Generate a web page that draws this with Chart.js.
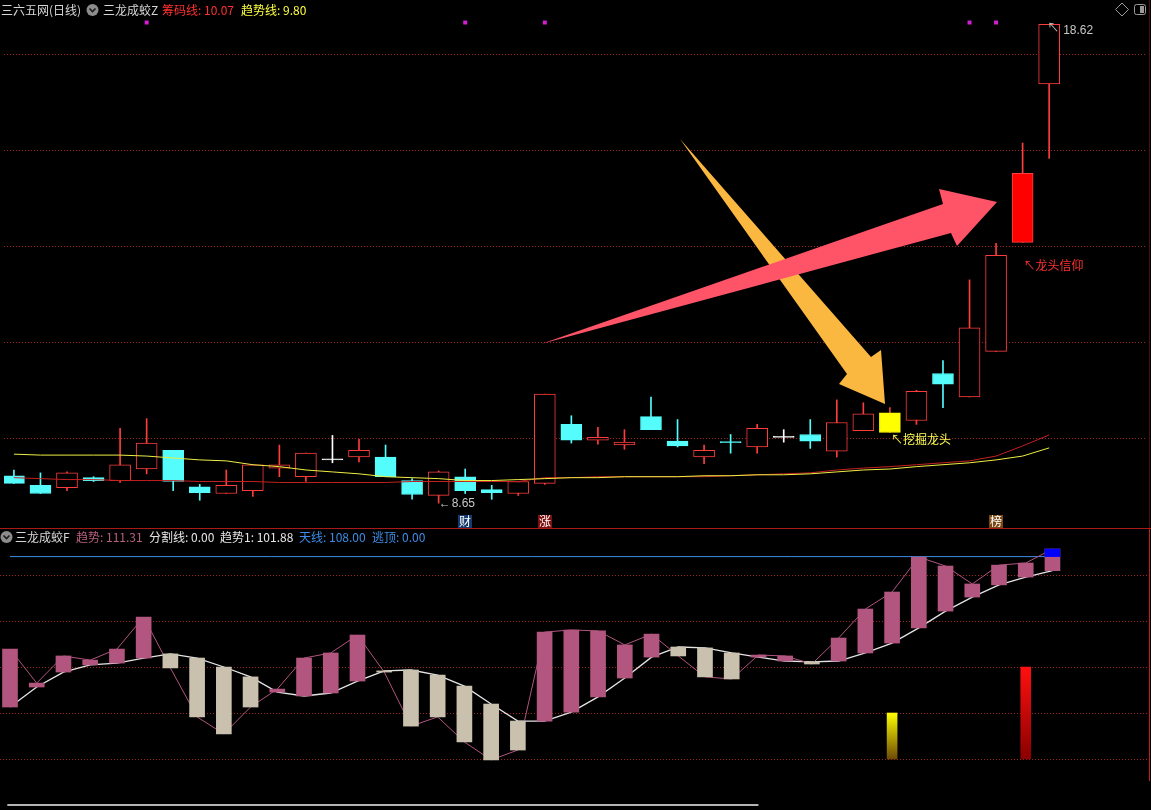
<!DOCTYPE html>
<html>
<head>
<meta charset="utf-8">
<script src="https://cdn.jsdelivr.net/npm/chart.js@4.4.0/dist/chart.umd.min.js"></script>
<style>
  html, body { margin: 0; padding: 0; background: #000; overflow: hidden; }
  body { width: 1151px; height: 810px; position: relative; font-family: "Noto Sans CJK SC", "Noto Sans", sans-serif; }
  canvas { position: absolute; left: 0; }
  #kline { top: 0; }
  #ind { top: 529px; }
  .sep { position: absolute; left: 0; top: 528px; width: 1151px; height: 1px; background: #a81a1a; }
  .rline { position: absolute; left: 1149px; width: 1px; }
  .t { position: absolute; font-size: 12px; line-height: 14px; white-space: nowrap; }
  svg { position: absolute; left: 0; top: 0; }
</style>
</head>
<body>
<canvas id="kline" width="1151" height="528"></canvas>
<canvas id="ind" width="1151" height="281"></canvas>
<div class="sep"></div>
<div class="rline" style="top:0;height:528px;background:#4a0d0d"></div>
<div class="rline" style="top:529px;height:252px;background:#c81c1c"></div>

<!-- title rows -->
<div class="t" style="left:1px;top:3px;color:#d6d6d6">三六五网(日线)</div>
<div class="t" style="left:103px;top:3px;color:#d6d6d6">三龙成蛟Z</div>
<div class="t" style="left:162px;top:3px;color:#ff3030">筹码线: 10.07</div>
<div class="t" style="left:241px;top:3px;color:#ffff40">趋势线: 9.80</div>

<div class="t" style="left:15px;top:530px;color:#d6d6d6">三龙成蛟F</div>
<div class="t" style="left:76px;top:530px;color:#b8607e">趋势: 111.31</div>
<div class="t" style="left:149px;top:530px;color:#e6e6e6">分割线: 0.00</div>
<div class="t" style="left:220px;top:530px;color:#e6e6e6">趋势1: 101.88</div>
<div class="t" style="left:299px;top:530px;color:#3c8ce6">天线: 108.00</div>
<div class="t" style="left:372px;top:530px;color:#3c8ce6">逃顶: 0.00</div>

<!-- icons and hand-drawn arrows -->
<svg width="1151" height="810">
  <circle cx="92.5" cy="10" r="6" fill="#8c8c8c"/>
  <path d="M89.5 8.5 L92.5 11.5 L95.5 8.5" stroke="#1a1a1a" stroke-width="1.6" fill="none"/>
  <circle cx="6.5" cy="537" r="6" fill="#8c8c8c"/>
  <path d="M3.5 535.5 L6.5 538.5 L9.5 535.5" stroke="#1a1a1a" stroke-width="1.6" fill="none"/>
  <polygon points="1122,3 1128.5,9.5 1122,16 1115.5,9.5" fill="none" stroke="#9a9a9a" stroke-width="1"/>
  <rect x="1134.5" y="4.5" width="11" height="10" rx="2" fill="none" stroke="#9a9a9a" stroke-width="1"/>
  <rect x="1140" y="6" width="4" height="7" fill="#9a9a9a"/>
  <polygon points="680,139 871,357 881,350 885,404 839,384 847,374" fill="#fbb840"/>
  <polygon points="541,344 943,204 939,189 997,202 957,246 951,233" fill="#ff5468"/>
</svg>

<script>
// ---- candles (price, daily) ----
const OPEN  = [9.22, 9.02, 8.97, 9.18, 9.12, 9.36, 9.75, 8.99, 8.85, 8.91,
               9.38, 9.20, 9.55, 9.61, 9.61, 9.12, 8.81, 9.20, 8.93, 8.85,
               9.06, 10.29, 9.96, 9.86, 10.45, 9.94, 9.61, 9.93, 9.82, 10.02,
               10.08, 9.73, 10.16, 10.12, 10.37, 11.35, 10.86, 11.81, 14.08, 17.38];
const HIGH  = [9.34, 9.28, 9.30, 9.20, 10.21, 10.41, 9.75, 9.04, 9.34, 9.45,
               9.86, 9.69, 10.06, 9.98, 9.86, 9.16, 9.32, 9.36, 9.02, 9.10,
               10.92, 10.47, 10.23, 10.18, 10.86, 10.39, 9.86, 10.08, 10.29, 10.18,
               10.39, 10.80, 10.74, 10.64, 11.00, 11.62, 13.30, 14.06, 16.15, 18.62];
const LOW   = [9.06, 8.85, 8.91, 9.10, 9.08, 9.26, 8.91, 8.71, 8.85, 8.79,
               9.20, 9.10, 9.49, 9.51, 9.20, 8.73, 8.65, 8.85, 8.73, 8.81,
               9.04, 9.90, 9.88, 9.77, 10.18, 9.82, 9.47, 9.69, 9.69, 9.92,
               9.79, 9.61, 10.16, 10.12, 10.29, 10.64, 10.86, 11.81, 14.08, 15.83];
const CLOSE = [9.06, 8.85, 9.28, 9.12, 9.45, 9.90, 9.10, 8.87, 9.02, 9.45,
               9.45, 9.69, 9.55, 9.75, 9.20, 8.83, 9.30, 8.91, 8.87, 9.10,
               10.92, 9.96, 10.02, 9.92, 10.18, 9.84, 9.75, 9.91, 10.21, 10.02,
               9.94, 10.33, 10.51, 10.53, 10.98, 11.13, 12.30, 13.81, 15.52, 18.62];
// 趋势线 (yellow) and 筹码线 (red)
const TREND_LINE = [9.67, 9.65, 9.65, 9.65, 9.65, 9.63, 9.59, 9.55, 9.53, 9.45,
                    9.41, 9.34, 9.30, 9.26, 9.20, 9.18, 9.16, 9.12, 9.12, 9.14,
                    9.16, 9.18, 9.18, 9.20, 9.20, 9.20, 9.22, 9.22, 9.24, 9.24,
                    9.26, 9.30, 9.34, 9.36, 9.41, 9.45, 9.49, 9.55, 9.63, 9.80];
const CHIP_LINE  = [9.18, 9.16, 9.14, 9.14, 9.12, 9.12, 9.12, 9.10, 9.10, 9.10,
                    9.08, 9.08, 9.08, 9.08, 9.08, 9.10, 9.10, 9.10, 9.10, 9.10,
                    9.18, 9.18, 9.20, 9.20, 9.20, 9.20, 9.20, 9.22, 9.24, 9.26,
                    9.28, 9.34, 9.38, 9.41, 9.45, 9.49, 9.53, 9.63, 9.84, 10.07];
const DOT_IDX = [5, 17, 20, 36, 37];
const DOT_LEVEL = 18.66;
const PRICE_GRID = [10, 12, 14, 16, 18];
const TAGS = [{i: 17, text: '财', bg: '#163a6e'}, {i: 20, text: '涨', bg: '#7c1010'}, {i: 37, text: '榜', bg: '#7a4612'}];

// ---- indicator panel ----
const TREND  = [67.8, 53.0, 64.8, 63.0, 67.8, 81.7, 59.6, 38.3, 30.9, 42.6,
                50.4, 63.9, 66.1, 73.9, 57.8, 34.3, 38.3, 27.4, 19.6, 23.9,
                75.2, 76.1, 75.7, 69.6, 74.3, 64.8, 55.7, 54.8, 65.2, 64.8,
                61.3, 72.6, 85.2, 92.6, 107.8, 103.9, 96.1, 104.3, 105.2, 111.31];
const TREND1 = [42.6, 51.3, 57.8, 60.9, 61.7, 63.9, 65.7, 63.9, 60.0, 55.7,
                49.1, 47.4, 48.7, 53.9, 58.3, 58.7, 56.5, 51.7, 43.9, 36.5,
                36.5, 40.4, 47.0, 55.2, 64.3, 68.7, 68.3, 66.1, 64.3, 62.6,
                62.2, 62.6, 66.1, 70.4, 77.0, 84.3, 90.4, 95.7, 99.1, 101.88];
const SKY = 108;            // 天线
const DIVIDE = 0;           // 分割线
const DIVIDE_END = 28;
const SIG_IDX = [33, 38];
const SIG_TOP = [40, 60];
const SIG_BASE = 20;
const IND_GRID = [20, 40, 60, 80, 100];

const RED = '#ff3c3c', CYAN = '#54fcfc', WHITE = '#ffffff';
const FILLED = {33: {fill: '#ffff00', line: '#ffff00', wick: '#e04040'}, 38: {fill: '#ff0000', line: '#ff4040', wick: '#ff4040'}};
const PINK = '#b2557f', BEIGE = '#c9c1ad';

const X_MIN = -0.374, X_MAX = 42.686;

function candleStyle(i) {
  if (FILLED[i]) return FILLED[i];
  if (CLOSE[i] > OPEN[i]) return {fill: '#000', line: RED, wick: RED};
  if (CLOSE[i] < OPEN[i]) return {fill: CYAN, line: CYAN, wick: CYAN};
  return {fill: WHITE, line: WHITE, wick: WHITE};
}

function gridScale(min, max, values) {
  return {
    min, max,
    ticks: {display: false},
    grid: {color: '#a02424', lineWidth: 1, drawTicks: false},
    border: {display: false, dash: [1, 2]},
    afterBuildTicks: s => { s.ticks = values.map(v => ({value: v})); },
    afterFit: s => { s.width = 0; }
  };
}
const xScale = {type: 'linear', min: X_MIN, max: X_MAX, offset: false, bounds: 'ticks', display: false};

const annotate = {
  id: 'annotate',
  afterDatasetsDraw(chart) {
    const {ctx, scales: {x, y}} = chart;
    ctx.save();
    ctx.textBaseline = 'middle';
    ctx.font = '12px "Liberation Sans"';
    ctx.fillStyle = '#c8c8c8';
    ctx.fillText('\u2190', x.getPixelForValue(16), y.getPixelForValue(LOW[16]) + 1);
    ctx.fillText('8.65', x.getPixelForValue(16) + 13, y.getPixelForValue(LOW[16]) + 1);
    ctx.font = '12px "Noto Sans CJK SC"';
    ctx.fillText('\u2196', x.getPixelForValue(39) - 2, y.getPixelForValue(HIGH[39]) + 3);
    ctx.font = '12px "Liberation Sans"';
    ctx.fillText('18.62', x.getPixelForValue(39) + 14, y.getPixelForValue(HIGH[39]) + 6);
    ctx.font = '12px "Noto Sans CJK SC"';
    ctx.fillStyle = '#ff3030';
    ctx.fillText('\u2196龙头信仰', x.getPixelForValue(38) + 1, y.getPixelForValue(LOW[38]) + 23);
    ctx.fillStyle = '#ffff50';
    ctx.fillText('\u2196挖掘龙头', x.getPixelForValue(33) + 1, y.getPixelForValue(LOW[33]) + 7);
    TAGS.forEach(t => {
      const cx = Math.round(x.getPixelForValue(t.i));
      ctx.fillStyle = t.bg;
      ctx.fillRect(cx - 7, 515, 14, 13);
      ctx.fillStyle = '#ffffff';
      ctx.textAlign = 'center';
      ctx.fillText(t.text, cx, 521.5);
      ctx.textAlign = 'left';
    });
    ctx.restore();
  }
};

new Chart(document.getElementById('kline'), {
  data: {
    datasets: [
      {type: 'scatter', data: DOT_IDX.map(i => ({x: i, y: DOT_LEVEL})),
       pointStyle: 'rect', pointRadius: 2.8, backgroundColor: '#d41ed4', borderWidth: 0},
      {type: 'line', data: TREND_LINE.map((v, i) => ({x: i, y: v})),
       borderColor: '#eeee44', borderWidth: 1, pointRadius: 0, tension: 0},
      {type: 'line', data: CHIP_LINE.map((v, i) => ({x: i, y: v})),
       borderColor: '#c42020', borderWidth: 1, pointRadius: 0, tension: 0},
      {type: 'bar', data: OPEN.map((o, i) => ({x: i, y: [o, CLOSE[i]]})),
       grouped: false, barThickness: 21, minBarLength: 1, borderSkipped: false, borderWidth: 1,
       backgroundColor: c => candleStyle(c.dataIndex).fill,
       borderColor: c => candleStyle(c.dataIndex).line},
      {type: 'bar', data: LOW.map((l, i) => ({x: i, y: [l, HIGH[i]]})),
       grouped: false, barThickness: 1, borderWidth: 0,
       backgroundColor: c => candleStyle(c.dataIndex).wick}
    ]
  },
  options: {
    responsive: false, animation: false,
    layout: {padding: 0},
    plugins: {legend: {display: false}, tooltip: {enabled: false}},
    scales: {x: xScale, y: gridScale(8.215, 19.046, PRICE_GRID)}
  },
  plugins: [annotate]
});

function signalFill(top, light, dark) {
  return c => {
    const {chart} = c;
    if (!chart.chartArea) return light;
    const y = chart.scales.y;
    const g = chart.ctx.createLinearGradient(0, y.getPixelForValue(top), 0, y.getPixelForValue(SIG_BASE));
    g.addColorStop(0, light);
    g.addColorStop(1, dark);
    return g;
  };
}

new Chart(document.getElementById('ind'), {
  data: {
    datasets: [
      {type: 'bar', data: [{x: TREND.length - 1, y: [SKY, TREND[TREND.length - 1]]}],
       grouped: false, barThickness: 15, borderWidth: 0, backgroundColor: '#0000ff'},
      {type: 'bar', data: [{x: SIG_IDX[0], y: [SIG_BASE, SIG_TOP[0]]}],
       grouped: false, barThickness: 10, borderWidth: 0,
       backgroundColor: signalFill(SIG_TOP[0], '#ffff00', '#6e4a06')},
      {type: 'bar', data: [{x: SIG_IDX[1], y: [SIG_BASE, SIG_TOP[1]]}],
       grouped: false, barThickness: 10, borderWidth: 0,
       backgroundColor: signalFill(SIG_TOP[1], '#ff1010', '#8a0000')},
      {type: 'bar', data: TREND.map((v, i) => ({x: i, y: [TREND1[i], v]})),
       grouped: false, barThickness: 15, minBarLength: 1, borderWidth: 0,
       backgroundColor: c => TREND[c.dataIndex] >= TREND1[c.dataIndex] ? PINK : BEIGE},
      {type: 'line', data: TREND.map((v, i) => ({x: i, y: v})),
       borderColor: PINK, borderWidth: 1, pointRadius: 0, tension: 0},
      {type: 'line', data: TREND1.map((v, i) => ({x: i, y: v})),
       borderColor: '#e4e4e4', borderWidth: 1.3, pointRadius: 0, tension: 0},
      {type: 'line', data: [{x: 0, y: SKY}, {x: TREND.length - 1, y: SKY}],
       borderColor: '#3c8ce6', borderWidth: 1, pointRadius: 0},
      {type: 'line', data: [{x: -0.1, y: DIVIDE}, {x: DIVIDE_END, y: DIVIDE}],
       borderColor: '#f0f0f0', borderWidth: 1.5, pointRadius: 0}
    ]
  },
  options: {
    responsive: false, animation: false,
    layout: {padding: 0},
    plugins: {legend: {display: false}, tooltip: {enabled: false}},
    scales: {x: xScale, y: gridScale(-2.17, 120, IND_GRID)}
  }
});
</script>
</body>
</html>
